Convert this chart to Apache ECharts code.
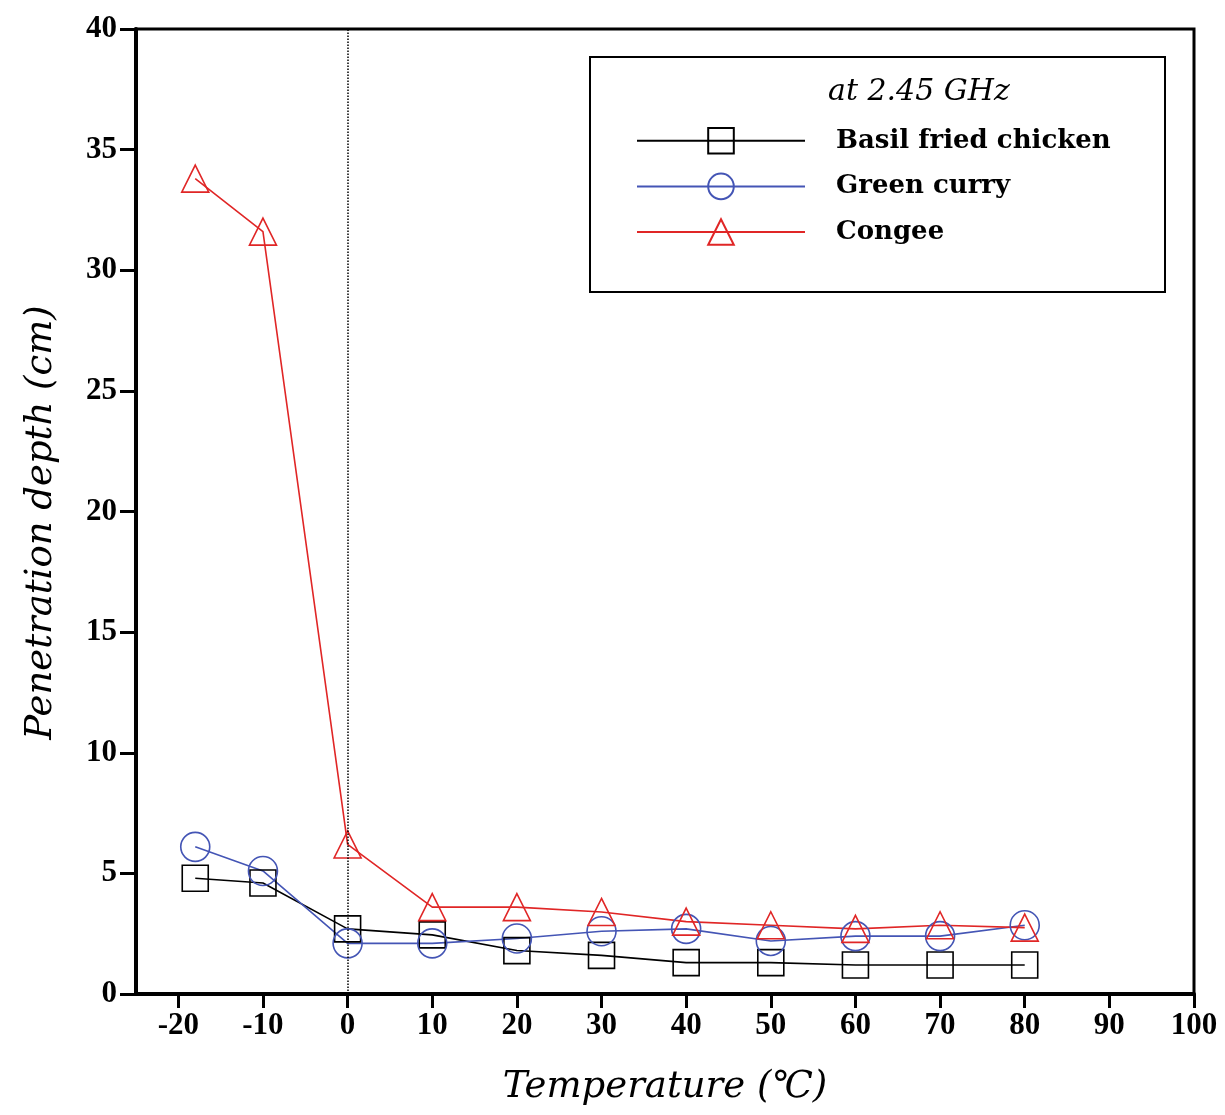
<!DOCTYPE html>
<html>
<head>
<meta charset="utf-8">
<script src="https://cdn.jsdelivr.net/npm/echarts@6/dist/echarts.min.js"></script>
<style>
  html, body { margin: 0; padding: 0; background: #fff; }
  #chart { width: 1225px; height: 1115px; }
</style>
</head>
<body>
<div id="chart"></div>
<script>
// temperatures (°C)
var temps = [-18, -10, 0, 10, 20, 30, 40, 50, 60, 70, 80];
// penetration depth (cm)
var basil = [4.8, 4.6, 2.7, 2.45, 1.8, 1.6, 1.3, 1.3, 1.2, 1.2, 1.2];
var curry = [6.1, 5.1, 2.1, 2.1, 2.3, 2.6, 2.7, 2.2, 2.4, 2.4, 2.85];
var congee = [33.8, 31.6, 6.2, 3.6, 3.6, 3.4, 3.0, 2.85, 2.7, 2.85, 2.75];
var xTicks = [-20, -10, 0, 10, 20, 30, 40, 50, 60, 70, 80, 90, 100];

var serif = "'Liberation Serif', 'DejaVu Serif', serif";
var wide = "'DejaVu Serif', serif";

function pairs(ys) {
  return temps.map(function (t, i) { return [t, ys[i]]; });
}

function mkSeries(name, data, color, symbol, size) {
  return {
    name: name,
    type: "line",
    data: pairs(data),
    symbol: symbol,
    symbolSize: size,
    color: color,
    lineStyle: { color: color, width: 1.6 },
    itemStyle: { color: "rgba(255,255,255,0)", borderColor: color, borderWidth: 1.6 },
    emphasis: { disabled: true },
    z: 3
  };
}

var chart = echarts.init(document.getElementById("chart"));

var series = [
  mkSeries("Basil fried chicken", basil, "#000000", "rect", 26),
  mkSeries("Green curry", curry, "#4455b5", "circle", 29),
  mkSeries("Congee", congee, "#e02626", "triangle", 27)
];
// dotted line at 0 °C
series[0].markLine = {
  silent: true,
  symbol: "none",
  label: { show: false },
  lineStyle: { color: "#000", type: "dotted", width: 1.5 },
  data: [{ xAxis: 0 }]
};

var option = {
  animation: false,
  backgroundColor: "#fff",
  grid: {
    left: 136, top: 29, width: 1058, height: 965,
    show: true, borderColor: "#000", borderWidth: 3, backgroundColor: "transparent"
  },
  xAxis: {
    type: "value",
    min: -25,
    max: 100,
    name: "Temperature (\u2103)",
    nameLocation: "middle",
    nameGap: 75,
    nameTextStyle: { fontFamily: wide, fontStyle: "italic", fontSize: 37, color: "#000" },
    axisLine: { show: true, onZero: false, lineStyle: { color: "#000", width: 4 } },
    axisTick: { show: true, length: 14, lineStyle: { color: "#000", width: 3 }, customValues: xTicks },
    axisLabel: {
      customValues: xTicks,
      margin: 16,
      fontFamily: serif, fontSize: 31, fontWeight: "bold", color: "#000"
    },
    splitLine: { show: false }
  },
  yAxis: {
    type: "value",
    min: 0,
    max: 40,
    interval: 5,
    name: "Penetration depth (cm)",
    nameLocation: "middle",
    nameGap: 76,
    nameTextStyle: {
      fontFamily: wide, fontStyle: "italic", fontSize: 37, color: "#000",
      padding: [0, 22, 0, 0]
    },
    axisLine: { show: true, onZero: false, lineStyle: { color: "#000", width: 4 } },
    axisTick: { show: true, length: 16, lineStyle: { color: "#000", width: 3 } },
    axisLabel: { margin: 19, fontFamily: serif, fontSize: 31, fontWeight: "bold", color: "#000" },
    splitLine: { show: false }
  },
  legend: {
    orient: "vertical",
    left: 631,
    top: 122,
    z: 10,
    itemWidth: 168,
    itemHeight: 32,
    itemGap: 18,
    selectedMode: false,
    data: ["Basil fried chicken", "Green curry", "Congee"],
    textStyle: { fontFamily: wide, fontSize: 26, fontWeight: "bold", color: "#000", padding: [0, 0, 0, 26] }
  },
  graphic: [
    {
      type: "rect",
      z: 5,
      shape: { x: 590, y: 57, width: 575, height: 235 },
      style: { fill: "#fff", stroke: "#000", lineWidth: 2 }
    },
    {
      type: "text",
      z: 6,
      left: 828,
      top: 77,
      style: { text: "at 2.45 GHz", font: "italic 30px " + wide, fill: "#000" }
    }
  ],
  series: series
};

chart.setOption(option);
</script>
</body>
</html>
